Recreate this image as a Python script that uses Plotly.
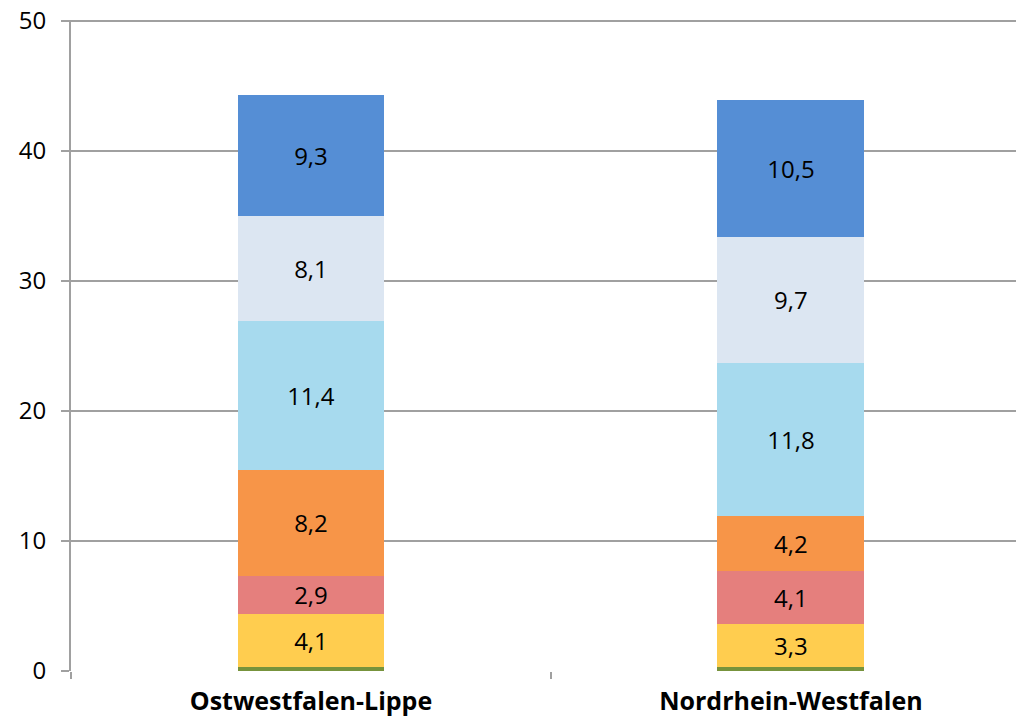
import plotly.graph_objects as go

categories = ["Ostwestfalen-Lippe", "Nordrhein-Westfalen"]
series_names = ["S1", "S2", "S3", "S4", "S5", "S6", "S7"]
values = {
    "S1": [0.3, 0.3],
    "S2": [4.1, 3.3],
    "S3": [2.9, 4.1],
    "S4": [8.2, 4.2],
    "S5": [11.4, 11.8],
    "S6": [8.1, 9.7],
    "S7": [9.3, 10.5],
}
show_label = {"S1": False, "S2": True, "S3": True, "S4": True, "S5": True, "S6": True, "S7": True}
colors = {
    "S1": "#77933C",
    "S2": "#FFCD4F",
    "S3": "#E57F7D",
    "S4": "#F79548",
    "S5": "#A7DAEE",
    "S6": "#DCE6F2",
    "S7": "#558ED5",
}
y_ticks = [0, 10, 20, 30, 40, 50]

fig = go.Figure()
for s in series_names:
    vals = values[s]
    txt = [(f"{v:.1f}".replace(".", ",") if show_label[s] else "") for v in vals]
    fig.add_trace(go.Bar(
        x=categories, y=vals, name=s,
        marker=dict(color=colors[s], line=dict(width=0)),
        text=txt, textposition="inside", insidetextanchor="middle",
        textangle=0, constraintext="none",
        textfont=dict(family="Open Sans", size=24, color="#000000"),
        width=0.306,
    ))

fig.update_layout(
    barmode="stack",
    width=1016, height=718,
    margin=dict(l=71, r=0, t=20, b=47),
    paper_bgcolor="white", plot_bgcolor="white",
    showlegend=False,
    uniformtext=dict(mode=False),
    font=dict(family="Open Sans", color="#000000"),
)
fig.update_xaxes(
    type="category",
    range=[-0.5, 1.469],
    tickson="boundaries",
    ticks="outside", ticklen=7, tickcolor="#A0A0A0", tickwidth=2,
    showline=False, showgrid=False, automargin=False,
    ticklabelstandoff=13,
    tickfont=dict(family="Open Sans", size=25, color="#000000", weight="bold"),
)
fig.update_yaxes(
    range=[0, 50.08],
    tickvals=y_ticks,
    ticks="outside", ticklen=8, tickcolor="#A0A0A0", tickwidth=2,
    showgrid=True, gridcolor="#A0A0A0", gridwidth=2,
    showline=True, linecolor="#A0A0A0", linewidth=2,
    zeroline=False, automargin=False,
    ticklabelstandoff=10, ticklabeloverflow="allow",
    tickfont=dict(family="Open Sans", size=24, color="#000000"),
)
fig.write_html(
    "out.html",
    config={"displayModeBar": False},
    post_script="document.body.style.margin='0';document.body.style.overflow='hidden';",
)
